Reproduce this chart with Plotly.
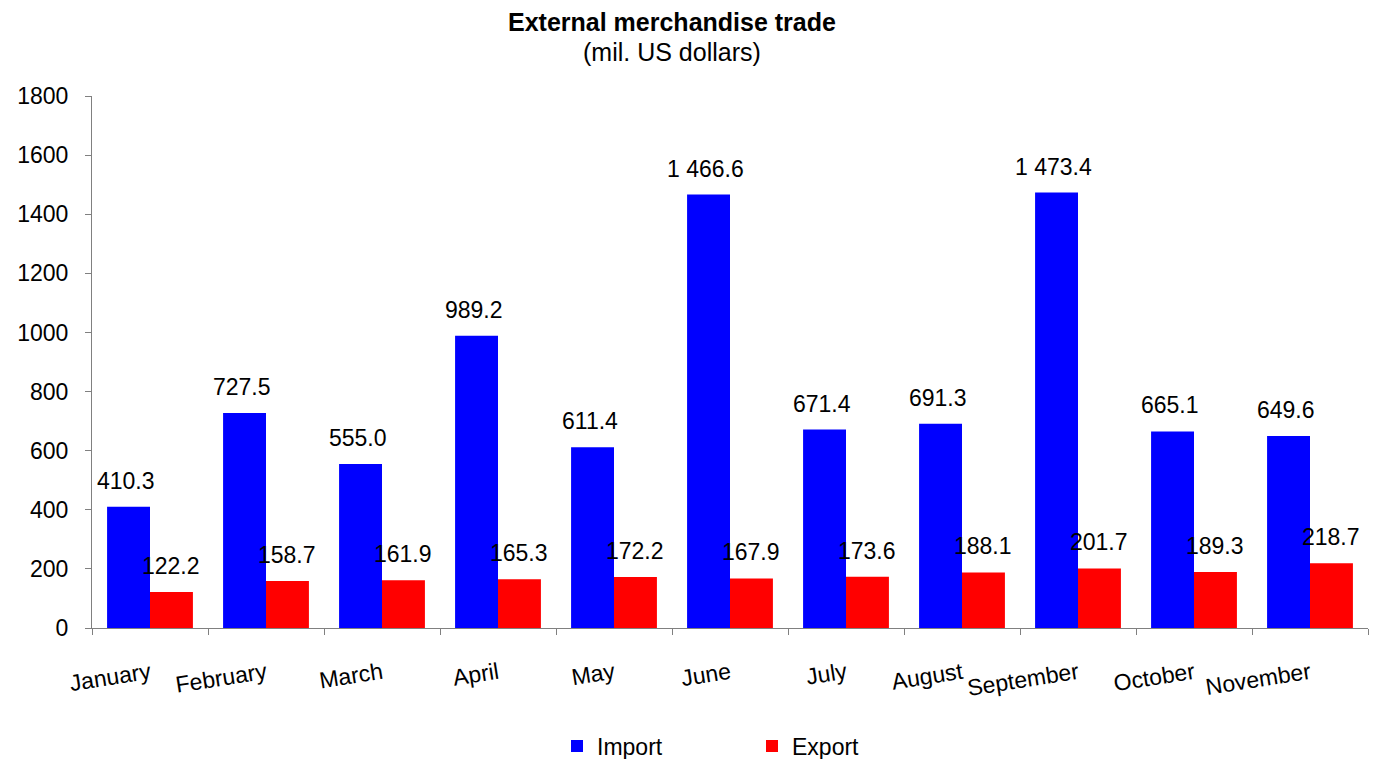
import plotly.graph_objects as go

months = ["January", "February", "March", "April", "May", "June", "July",
          "August", "September", "October", "November"]
imports = [410.3, 727.5, 555.0, 989.2, 611.4, 1466.6, 671.4, 691.3, 1473.4, 665.1, 649.6]
exports = [122.2, 158.7, 161.9, 165.3, 172.2, 167.9, 173.6, 188.1, 201.7, 189.3, 218.7]
y_ticks = [0, 200, 400, 600, 800, 1000, 1200, 1400, 1600, 1800]


def fmt(v):
    return f"{v:,.1f}".replace(",", " ")


FONT = "Liberation Sans, Arial, sans-serif"
FS = 23
W, H = 1396, 759
ML, MR, MT, MB = 92, 28, 96, 131
PW = W - ML - MR
PH = H - MT - MB
BARGAP = 0.26
cat_px = PW / len(months)
half_bar = cat_px * (1 - BARGAP) / 4  # half width of one bar in px

fig = go.Figure()
fig.add_trace(go.Bar(name="Import", x=months, y=imports, marker_color="#0000FF",
                     marker_line_width=0))
fig.add_trace(go.Bar(name="Export", x=months, y=exports, marker_color="#FF0000",
                     marker_line_width=0))

for series, sign, dx in ((imports, -1, -3), (exports, 1, 0)):
    for m, v in zip(months, series):
        fig.add_annotation(x=m, y=v, xref="x", yref="y", text=fmt(v), showarrow=False,
                           xanchor="center", yanchor="bottom", xshift=sign * half_bar + dx,
                           yshift=11, font=dict(size=FS, color="black", family=FONT))

fig.update_layout(
    width=W, height=H,
    barmode="group", bargap=BARGAP, bargroupgap=0,
    plot_bgcolor="white", paper_bgcolor="white",
    margin=dict(l=ML, r=MR, t=MT, b=MB, autoexpand=False),
    font=dict(family=FONT, size=FS, color="black"),
    showlegend=True,
    legend=dict(orientation="h", x=(557 - ML) / PW, xanchor="left",
                y=-(746 - (MT + PH)) / PH, yanchor="middle",
                font=dict(size=FS), entrywidth=150, itemwidth=30),
)
fig.update_xaxes(
    showline=True, linecolor="#808080", linewidth=1,
    ticks="outside", tickson="boundaries", ticklen=6, tickcolor="#808080",
    tickangle=-9, tickfont=dict(size=FS), ticklabelstandoff=22,
    showgrid=False,
)
fig.update_yaxes(
    range=[0, 1800], tickvals=y_ticks, showline=True, linecolor="#808080", linewidth=1,
    ticks="outside", ticklen=6, tickcolor="#808080", showgrid=False, zeroline=False,
    tickfont=dict(size=FS), ticklabelstandoff=12,
)
fig.add_annotation(text="<b>External merchandise trade</b>", xref="paper", yref="paper",
                   x=(672 - ML) / PW, y=1 + (MT - 22) / PH, showarrow=False,
                   font=dict(size=25), xanchor="center", yanchor="middle")
fig.add_annotation(text="(mil. US dollars)", xref="paper", yref="paper",
                   x=(672 - ML) / PW, y=1 + (MT - 52) / PH, showarrow=False,
                   font=dict(size=25), xanchor="center", yanchor="middle")

fig.write_html("out.html", config={"displayModeBar": False},
               post_script="document.body.style.margin='0';")
